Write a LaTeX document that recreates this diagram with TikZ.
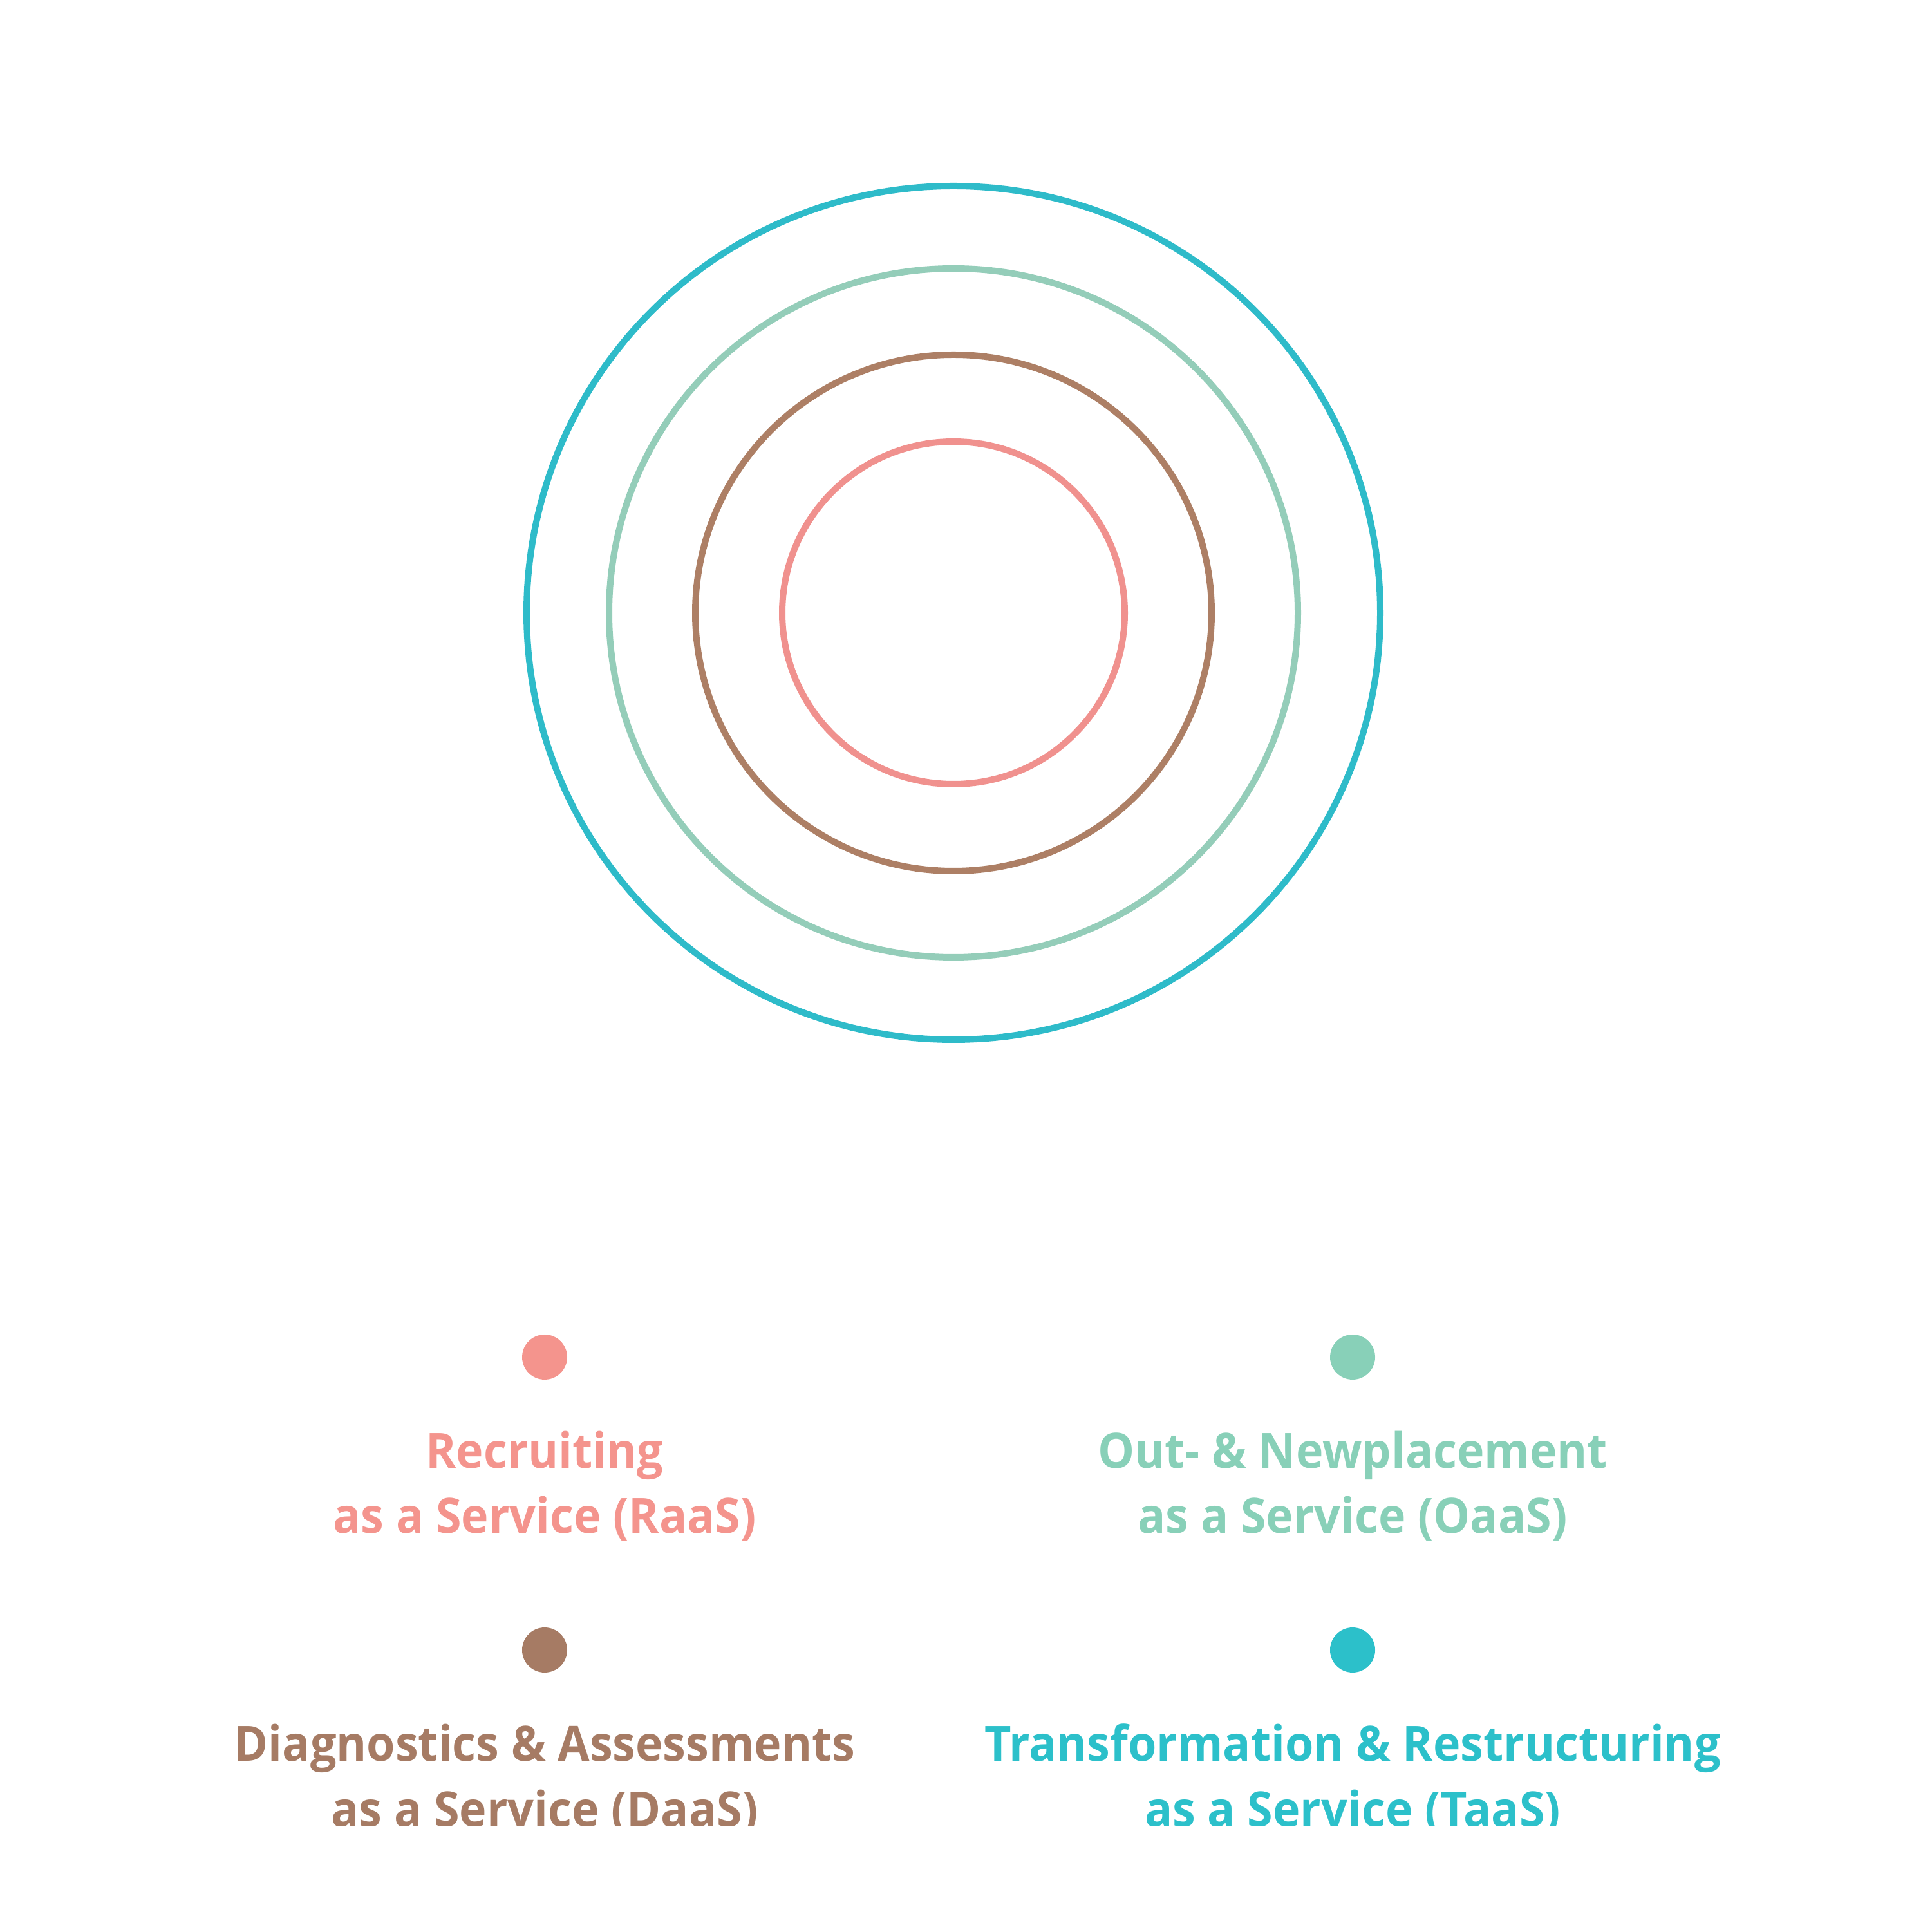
\documentclass[tikz,border=0pt]{standalone}
\usepackage{fontspec}
\setmainfont{Open Sans}[FakeStretch=0.95]
\usetikzlibrary{positioning, calc}
\definecolor{raasline}{HTML}{F0918E}
\definecolor{daasline}{HTML}{AD7F65}
\definecolor{oaasline}{HTML}{94CDB9}
\definecolor{taasline}{HTML}{2EBBC9}
\definecolor{raasfill}{HTML}{F4948D}
\definecolor{daasfill}{HTML}{A67B64}
\definecolor{oaasfill}{HTML}{88D0B8}
\definecolor{taasfill}{HTML}{2CC0CA}
\tikzset{
  ring/.style={circle, line width=1mm, inner sep=0pt},
  legdot/.style={circle, inner sep=0pt, minimum size=0.7cm},
  legtext/.style={font=\bfseries\fontsize{21.5}{29}\selectfont, align=center, anchor=base},
}
\def\labdrop{2.74cm}
\def\colgap{12.55cm}
\def\rowgap{4.55cm}

\begin{document}
\begin{tikzpicture}
\useasboundingbox (0,0) rectangle (30.01,30.01);
\begin{scope}
% the picture is cut off just under the last text line
\clip (0,1.65) rectangle (30.01,30.01);

% Rings
\coordinate (centre) at (14.81,20.49);
\node[ring, draw=taasline, minimum size=13.26cm] (taasring) at (centre) {};
\node[ring, draw=oaasline, minimum size=10.70cm] (oaasring) at (centre) {};
\node[ring, draw=daasline, minimum size=8.02cm] (daasring) at (centre) {};
\node[ring, draw=raasline, minimum size=5.32cm] (raasring) at (centre) {};

% Legend dots
\node[legdot, fill=raasfill] (raasdot) at (8.46,8.93) {};
\node[legdot, fill=oaasfill, right=\colgap of raasdot.center, anchor=center] (oaasdot) {};
\node[legdot, fill=daasfill, below=\rowgap of raasdot.center, anchor=center] (daasdot) {};
\node[legdot, fill=taasfill, right=\colgap of daasdot.center, anchor=center] (taasdot) {};

% Legend labels (anchored on the baseline of the last line)
\node[legtext, text=raasfill] (raaslabel) at ($(raasdot)+(0,-\labdrop)$)
  {Recruiting\\as a Service (RaaS)};
\node[legtext, text=oaasfill] (oaaslabel) at ($(oaasdot)+(0,-\labdrop)$)
  {Out- \& Newplacement\\as a Service (OaaS)};
\node[legtext, text=daasfill] (daaslabel) at ($(daasdot)+(0,-\labdrop)$)
  {Diagnostics \& Assessments\\as a Service (DaaS)};
\node[legtext, text=taasfill] (taaslabel) at ($(taasdot)+(0,-\labdrop)$)
  {Transformation \& Restructuring\\as a Service (TaaS)};
\end{scope}

\end{tikzpicture}
\end{document}
